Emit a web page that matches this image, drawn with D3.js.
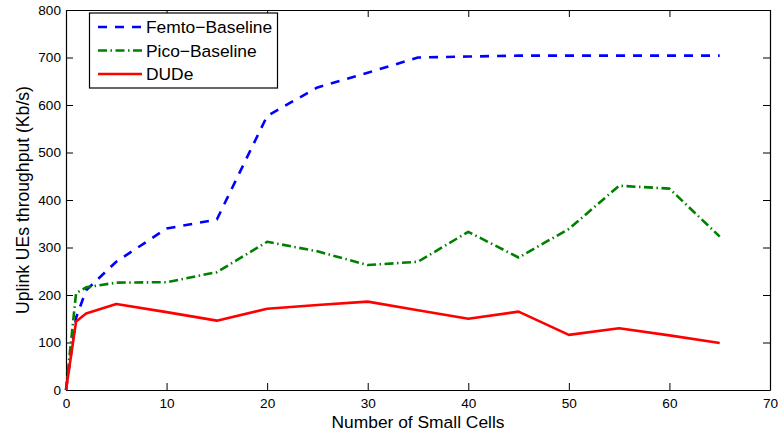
<!DOCTYPE html>
<html>
<head>
<meta charset="utf-8">
<script src="https://cdn.jsdelivr.net/npm/d3@7"></script>
<style>
  html, body { margin: 0; padding: 0; background: #fff; }
  svg text { font-family: "Liberation Sans", Arial, Helvetica, sans-serif; fill: #000; }
</style>
</head>
<body>
<svg id="chart" width="779" height="434"></svg>
<script>
// Number of small cells on the x axis
const smallCells = [0, 1, 2, 5, 10, 15, 20, 25, 30, 35, 40, 45, 50, 55, 60, 65];

// Uplink UE throughput (Kb/s) for each scheme
const femtoBaseline = [0, 152, 210, 270, 340, 359, 577, 637, 668, 700, 702, 704, 704, 704, 704, 704];
const picoBaseline  = [0, 204, 216, 226, 227, 248, 312, 292, 263, 270, 333, 279, 339, 430, 424, 323];
const dude          = [0, 144, 161, 181, 164, 146, 171, 179, 186, 168, 150, 165, 116, 130, 115, 99];

const xTicks = [0, 10, 20, 30, 40, 50, 60, 70];
const yTicks = [0, 100, 200, 300, 400, 500, 600, 700, 800];

const seriesNames = ["Femto\u2212Baseline", "Pico\u2212Baseline", "DUDe"];
const seriesColors = ["#0000ff", "#008000", "#ff0000"];
const seriesDash = ["9,8", "9,3.5,1.5,3.5", null];
const seriesValues = [femtoBaseline, picoBaseline, dude];

const svg = d3.select("#chart");
const margin = { left: 66, right: 9, top: 10, bottom: 44 };
const W = 779, H = 434;
const x = d3.scaleLinear().domain([0, 70]).range([margin.left, W - margin.right]);
const y = d3.scaleLinear().domain([0, 800]).range([H - margin.bottom, margin.top]);

const tickLen = 7;
const tickFont = 13.6;

// Axes: ticks point inward on all four sides, like a boxed plot
svg.append("g")
  .attr("transform", `translate(0,${y(0)})`)
  .call(d3.axisBottom(x).tickValues(xTicks).tickSizeInner(-tickLen).tickSizeOuter(0))
  .call(g => g.selectAll("text").attr("font-size", tickFont).attr("dy", null).attr("y", 18));
svg.append("g")
  .attr("transform", `translate(0,${y(800)})`)
  .call(d3.axisTop(x).tickValues(xTicks).tickSizeInner(-tickLen).tickSizeOuter(0).tickFormat(""));
svg.append("g")
  .attr("transform", `translate(${x(0)},0)`)
  .call(d3.axisLeft(y).tickValues(yTicks).tickSizeInner(-tickLen).tickSizeOuter(0))
  .call(g => g.selectAll("text").attr("font-size", tickFont).attr("x", -5));
svg.append("g")
  .attr("transform", `translate(${x(70)},0)`)
  .call(d3.axisRight(y).tickValues(yTicks).tickSizeInner(-tickLen).tickSizeOuter(0).tickFormat(""));

svg.selectAll(".domain").attr("stroke", "#000").attr("stroke-width", 1.2);
svg.selectAll(".tick line").attr("stroke", "#000").attr("stroke-width", 1);

// Series lines
const line = d3.line()
  .x((d, i) => x(smallCells[i]))
  .y(d => y(d));

seriesValues.forEach((vals, k) => {
  svg.append("path")
    .datum(vals)
    .attr("fill", "none")
    .attr("stroke", seriesColors[k])
    .attr("stroke-width", 2.6)
    .attr("stroke-linejoin", "round")
    .attr("stroke-dasharray", seriesDash[k])
    .attr("d", line);
});

// Axis titles
svg.append("text")
  .attr("x", (x(0) + x(70)) / 2)
  .attr("y", 428)
  .attr("text-anchor", "middle")
  .attr("font-size", 17.4)
  .text("Number of Small Cells");

svg.append("text")
  .attr("transform", `translate(28.5,${(y(0) + y(800)) / 2}) rotate(-90)`)
  .attr("text-anchor", "middle")
  .attr("font-size", 17.6)
  .text("Uplink UEs throughput (Kb/s)");

// Legend
const legend = svg.append("g");
legend.append("rect")
  .attr("x", 89.5).attr("y", 13)
  .attr("width", 188).attr("height", 75)
  .attr("fill", "#fff").attr("stroke", "#000").attr("stroke-width", 1.2);

seriesNames.forEach((name, k) => {
  const cy = 27 + k * 23.5;
  legend.append("line")
    .attr("x1", 98).attr("x2", 142)
    .attr("y1", cy).attr("y2", cy)
    .attr("stroke", seriesColors[k])
    .attr("stroke-width", 2.6)
    .attr("stroke-dasharray", seriesDash[k]);
  legend.append("text")
    .attr("x", 146).attr("y", cy + 6.3)
    .attr("font-size", 17.4)
    .text(name);
});
</script>
</body>
</html>
